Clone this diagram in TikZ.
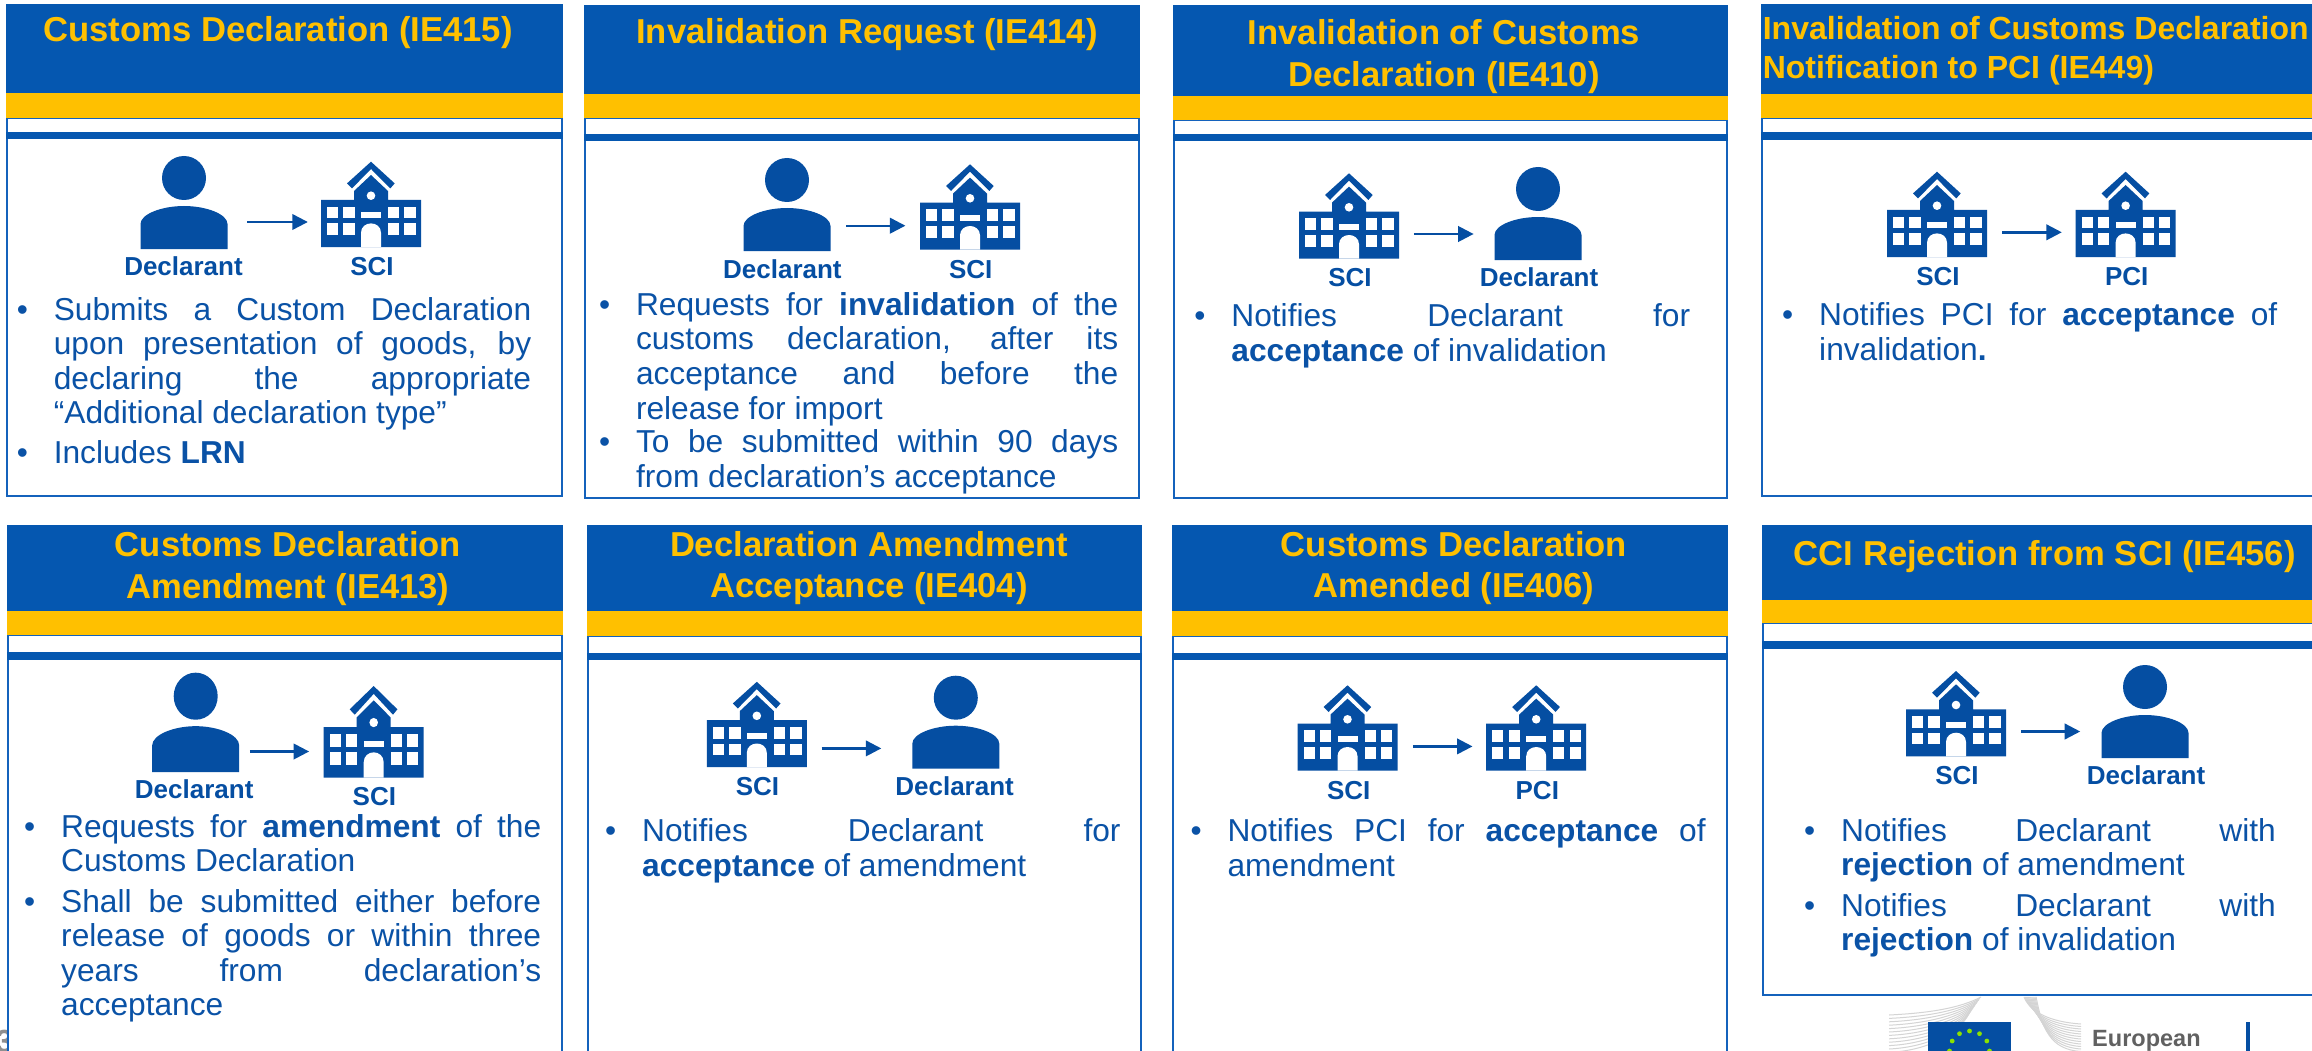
\documentclass[tikz,border=0pt]{standalone}
\usepackage{fontspec}
\setmainfont{Liberation Sans}
\usetikzlibrary{arrows.meta}
\definecolor{hblue}{HTML}{0557B0}
\definecolor{iblue}{HTML}{054EA2}
\definecolor{tblue}{HTML}{0A52A6}
\definecolor{lblue}{HTML}{1462BC}
\definecolor{gold}{HTML}{FFC000}
\definecolor{pgray}{HTML}{8F8F8F}
\newlength{\blockw}
\newcommand{\jl}[1]{\hbox to \blockw{\spaceskip=.278em plus 1fil\relax #1}}
\newcommand{\lftl}[1]{\hbox to \blockw{#1\hfil}}
\newcommand{\bulmk}{\llap{\hbox to 37pt{•\hfil}}}
\tikzset{
  x=1pt,y=-1pt,
  bodytext/.style={font=\fontsize{31.7}{35}\selectfont,text=tblue,inner sep=0pt,anchor=base west},
  titletext/.style={font=\fontsize{34.6}{41}\selectfont\bfseries,text=gold,inner sep=0pt,anchor=base},
  smalltitle/.style={font=\fontsize{32}{38}\selectfont\bfseries,text=gold,inner sep=0pt,anchor=base west},
  iconlabel/.style={font=\fontsize{26}{30}\selectfont\bfseries,text=iblue,inner sep=0pt,anchor=base},
  anchorperson/.style={inner sep=0pt,minimum width=87pt,minimum height=0pt},
  anchorschool/.style={inner sep=0pt,minimum width=100pt,minimum height=0pt},
  flow/.style={draw=iblue,line width=2.4pt,-{Triangle[length=15.5pt,width=15.5pt]}},
  stripe/.style={draw=black!17,line width=1pt},
}
% L R top blueend goldend bar1 bar2 bottom
\newcommand{\panelbox}[8]{%
  \draw[lblue,line width=2pt,fill=white] ({#1+1},#5) rectangle ({#2-1},#8);
  \fill[hblue] (#1,#3) rectangle (#2,#4);
  \fill[gold] (#1,#4) rectangle (#2,#5);
  \fill[hblue] (#1,#6) rectangle (#2,#7);
}
\newcommand{\personicon}[3]{%
  \begin{scope}[shift={(#1,#2)},yscale=#3]
    \fill[iblue] (0,0) circle [radius=22];
    \fill[iblue] (-43.5,71) -- (-43.5,46) .. controls (-43.5,36) and (-22,28) .. (0,28)
      .. controls (22,28) and (43.5,36) .. (43.5,46) -- (43.5,71) -- cycle;
  \end{scope}}
\newcommand{\schoolicon}[3]{%
  \begin{scope}[shift={(#1,#2)},yscale=#3]
    \fill[iblue] (0,0) -- (23.7,21.7) -- (19.3,26.7) -- (0,7.3) -- (-19,26.7) -- (-24,21.7) -- cycle;
    \fill[iblue] (0,13.3) -- (17,29.3) -- (17,38.3) -- (50,38.3) -- (50,85.3) -- (-50,85.3)
      -- (-50,38.3) -- (-17,38.3) -- (-17,29.3) -- cycle;
    \fill[white] (0,34) circle [radius=4.3];
    \fill[white] (-10,50.7) rectangle (10,56.7);
    \fill[white] (-10,85.3) -- (-10,71) .. controls (-10,65) and (-5,61.7) .. (0,61.7)
      .. controls (5,61.7) and (10,65) .. (10,71) -- (10,85.3) -- cycle;
    \foreach \xa/\xb in {-44/-33,-27.7/-16.3,17/28,33.3/44.7}{
      \fill[white] (\xa,45) rectangle (\xb,56.7);
      \fill[white] (\xa,61.7) rectangle (\xb,73.3);
    }
  \end{scope}}
% name x baseline width skip lines
\newcommand{\bulblock}[6]{%
  \node[bodytext] (#1) at (#2,#3) {\setlength{\blockw}{#4pt}\vtop{\hsize=#4pt\baselineskip=#5pt\lineskiplimit=-100pt\lineskip=0pt #6}};}
% name x baseline skip text
\newcommand{\titleblock}[5]{%
  \node[titletext] (#1) at (#2,#3) {\vtop{\hsize=540pt\baselineskip=#4pt\lineskiplimit=-100pt\centering #5\par}};}
\newcommand{\flowarrow}[4]{\draw[flow,shorten <=#3pt,shorten >=#4pt] (#1) -- (#2);}
\begin{document}
\begin{tikzpicture}
\useasboundingbox (0,0) rectangle (2312,1051);
\clip (0,0) rectangle (2312,1051);
\fill[white] (0,0) rectangle (2312,1051);

% ---- logo
\foreach \i in {0,...,11}{
  \draw[stripe] (1889,{1015+\i*3.4}) .. controls (1930,{1013+\i*3.4}) and (1960,{1008+\i*2.2}) .. ({1981-\i*1.1},{997+\i*1.5});
  \draw[stripe] ({2024+\i*1.1},997) .. controls ({2030+\i*1.1},{1012+\i*1.5}) and (2050,{1022+\i*2.5}) .. (2081,{1024+\i*2.5});
}
\fill[iblue] (1928,1021.7) rectangle (2011,1060);
\foreach \a in {30,60,...,360}{
  \fill[black!25!green!45!yellow] ({1969.5+20*cos(\a)},{1051+20*sin(\a)}) circle [radius=2.4];
}
\node[font=\fontsize{23.5}{26}\selectfont,text=black!62,inner sep=0pt,anchor=base west] (ecname) at (2092,1046.7) {\textbf{European}};
\fill[iblue] (2246,1021.7) rectangle (2250,1060);

% ---- page number
\node[font=\fontsize{32}{36}\selectfont\bfseries,text=pgray,inner sep=0pt,anchor=base east] (pageno) at (13.5,1052) {3};

% ---- panel 1
\panelbox{6.3}{562.7}{4}{93}{118}{131.7}{139}{496}
\titleblock{t1}{278}{41.7}{41}{Customs Declaration (IE415)}
\personicon{184}{178}{1}
\schoolicon{371}{161.7}{1}
\node[anchorperson] (a1) at (184,222) {};
\node[anchorschool] (b1) at (371,222) {};
\flowarrow{a1}{b1}{19.5}{13}
\node[iconlabel] (la1) at (183.5,275) {Declarant};
\node[iconlabel] (lb1) at (372,275) {SCI};
\bulblock{x1a}{53.6}{320}{477.4}{34.5}{\jl{\bulmk Submits a Custom Declaration}\jl{upon presentation of goods, by}\jl{declaring the appropriate}\lftl{“Additional declaration type”}}
\bulblock{x1b}{53.6}{463}{477.4}{34.5}{\lftl{\bulmk Includes \textbf{LRN}}}

% ---- panel 2
\panelbox{584}{1139.5}{5.3}{94.3}{118.3}{134}{140.7}{498}
\titleblock{t2}{867}{44}{41}{Invalidation Request (IE414)}
\personicon{787}{180}{1}
\schoolicon{970}{164.3}{1}
\node[anchorperson] (a2) at (787,225.7) {};
\node[anchorschool] (b2) at (970,225.7) {};
\flowarrow{a2}{b2}{15.5}{14.4}
\node[iconlabel] (la2) at (782.4,278.7) {Declarant};
\node[iconlabel] (lb2) at (970.7,278.7) {SCI};
\bulblock{x2a}{635.8}{315}{482.2}{34.7}{\jl{\bulmk Requests for \textbf{invalidation} of the}\jl{customs declaration, after its}\jl{acceptance and before the}\lftl{release for import}}
\bulblock{x2b}{635.8}{452.7}{482.2}{35}{\jl{\bulmk To be submitted within 90 days}\lftl{from declaration’s acceptance}}

% ---- panel 3
\panelbox{1173.4}{1728.3}{5.3}{95.7}{120}{134.3}{141.3}{497.7}
\titleblock{t3}{1444}{44.3}{42.4}{Invalidation of Customs\\Declaration (IE410)}
\schoolicon{1349}{173.3}{1}
\personicon{1538}{189}{1}
\node[anchorschool] (a3) at (1349,234) {};
\node[anchorperson] (b3) at (1538,234) {};
\flowarrow{a3}{b3}{14.7}{20.7}
\node[iconlabel] (la3) at (1350,286.7) {SCI};
\node[iconlabel] (lb3) at (1539,286.7) {Declarant};
\bulblock{x3a}{1231.2}{326.7}{458.8}{35}{\jl{\bulmk Notifies Declarant for}\lftl{\textbf{acceptance} of invalidation}}

% ---- panel 4
\panelbox{1761}{2330}{4}{94.3}{118.3}{132.3}{139.7}{496}
\node[smalltitle] (t4) at (1762.6,40) {\vtop{\hsize=560pt\baselineskip=38.3pt\lineskiplimit=-100pt\raggedright Invalidation of Customs Declaration\\Notification to PCI (IE449)\par}};
\schoolicon{1937}{171.7}{1}
\schoolicon{2125.6}{171.7}{1}
\node[anchorschool] (a4) at (1937,232.3) {};
\node[anchorschool] (b4) at (2125.6,232.3) {};
\flowarrow{a4}{b4}{15}{13.6}
\node[iconlabel] (la4) at (1938,285) {SCI};
\node[iconlabel] (lb4) at (2126.7,285) {PCI};
\bulblock{x4a}{1819}{325}{458}{35}{\jl{\bulmk Notifies PCI for \textbf{acceptance} of}\lftl{invalidation\textbf{.}}}

% ---- panel 5
\panelbox{7.4}{562.7}{524.5}{611}{635.3}{652.2}{659.8}{1065}
\titleblock{t5}{288}{556.6}{41.4}{Customs Declaration\\Amendment (IE413)}
\personicon{195.7}{696.2}{1.07}
\schoolicon{373.7}{686}{1.075}
\node[anchorperson] (a5) at (195.7,751.5) {};
\node[anchorschool] (b5) at (373.7,751.5) {};
\flowarrow{a5}{b5}{10.5}{14.4}
\node[iconlabel] (la5) at (194.2,798) {Declarant};
\node[iconlabel] (lb5) at (374.4,805) {SCI};
\bulblock{x5a}{61}{837.8}{480}{33.5}{\jl{\bulmk Requests for \textbf{amendment} of the}\lftl{Customs Declaration}}
\bulblock{x5b}{61}{912}{480}{34.5}{\jl{\bulmk Shall be submitted either before}\jl{release of goods or within three}\jl{years from declaration’s}\lftl{acceptance}}

% ---- panel 6
\panelbox{586.5}{1142}{524.5}{611}{635.7}{652.5}{659.8}{1065}
\titleblock{t6}{869}{556.6}{41}{Declaration Amendment\\Acceptance (IE404)}
\schoolicon{756.8}{681.8}{1}
\personicon{955.8}{697.7}{1}
\node[anchorschool] (a6) at (756.8,748.4) {};
\node[anchorperson] (b6) at (955.8,748.4) {};
\flowarrow{a6}{b6}{14.6}{30.8}
\node[iconlabel] (la6) at (757.5,795.7) {SCI};
\node[iconlabel] (lb6) at (954.6,795.7) {Declarant};
\bulblock{x6a}{642}{841.3}{478.3}{35.2}{\jl{\bulmk Notifies Declarant for}\lftl{\textbf{acceptance} of amendment}}

% ---- panel 7
\panelbox{1172}{1727.5}{524.5}{611}{636}{652.5}{660}{1065}
\titleblock{t7}{1454}{556.6}{41}{Customs Declaration\\Amended (IE406)}
\schoolicon{1347.5}{685.3}{1}
\schoolicon{1536.2}{685.3}{1}
\node[anchorschool] (a7) at (1347.5,746.4) {};
\node[anchorschool] (b7) at (1536.2,746.4) {};
\flowarrow{a7}{b7}{15.1}{13.5}
\node[iconlabel] (la7) at (1348.7,799.9) {SCI};
\node[iconlabel] (lb7) at (1537.3,799.9) {PCI};
\bulblock{x7a}{1227.4}{841.3}{478}{35.2}{\jl{\bulmk Notifies PCI for \textbf{acceptance} of}\lftl{amendment}}

% ---- panel 8
\panelbox{1761.5}{2330}{524.5}{600.4}{622.8}{641}{648.7}{994.8}
\titleblock{t8}{2044.8}{565.2}{41}{CCI Rejection from SCI (IE456)}
\schoolicon{1956}{671}{1}
\personicon{2145}{687}{1}
\node[anchorschool] (a8) at (1956,731.5) {};
\node[anchorperson] (b8) at (2145,731.5) {};
\flowarrow{a8}{b8}{14.9}{21.1}
\node[iconlabel] (la8) at (1957,784.3) {SCI};
\node[iconlabel] (lb8) at (2146,784.3) {Declarant};
\bulblock{x8a}{1841}{841.3}{434.6}{33.7}{\jl{\bulmk Notifies Declarant with}\lftl{\textbf{rejection} of amendment}}
\bulblock{x8b}{1841}{916.5}{434.6}{33.7}{\jl{\bulmk Notifies Declarant with}\lftl{\textbf{rejection} of invalidation}}
\end{tikzpicture}
\end{document}
